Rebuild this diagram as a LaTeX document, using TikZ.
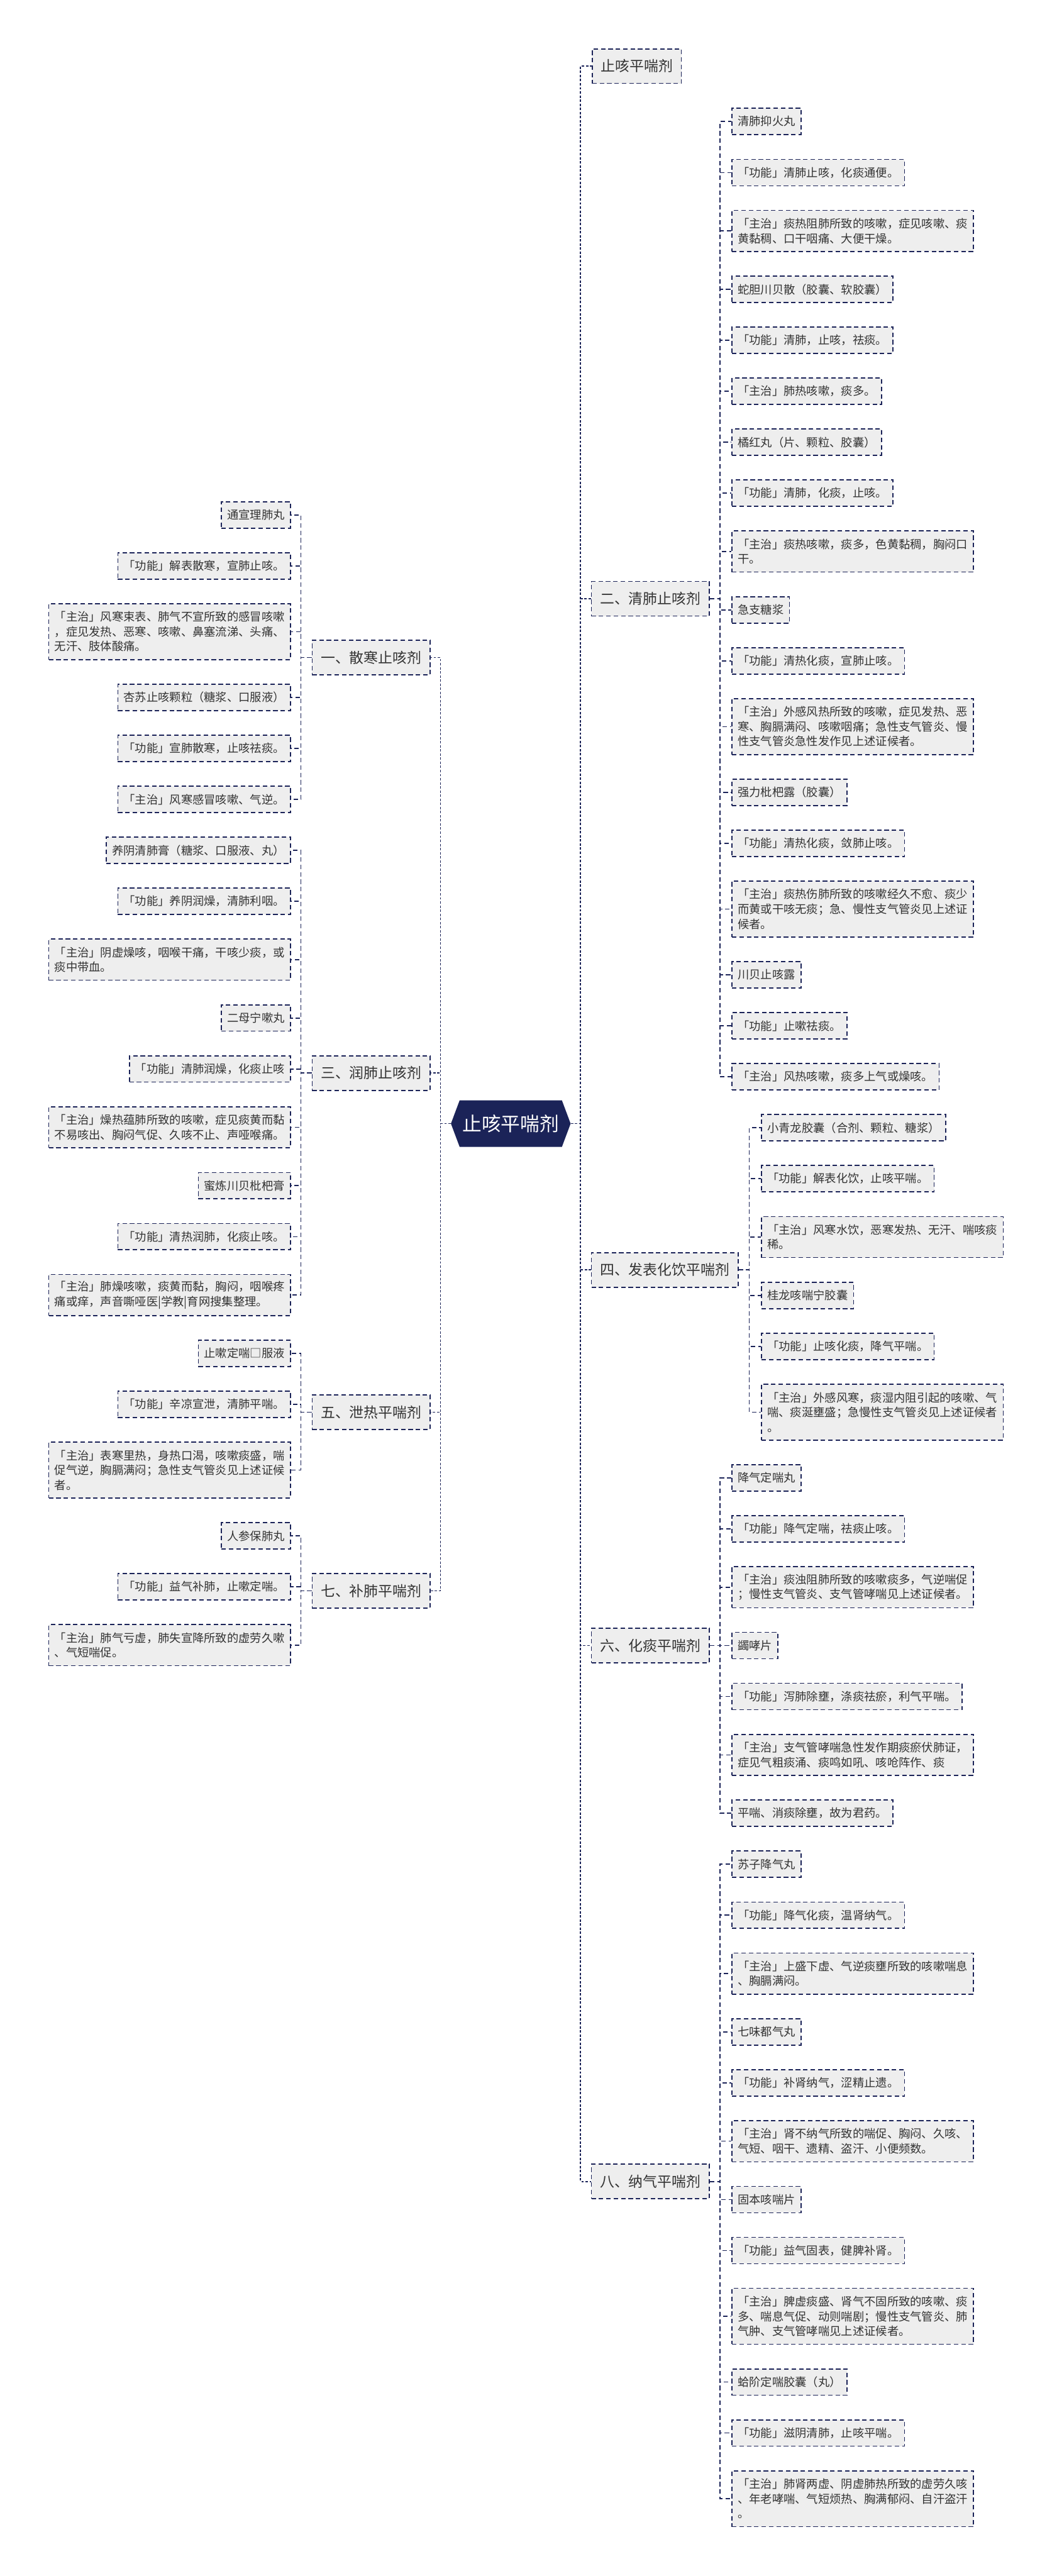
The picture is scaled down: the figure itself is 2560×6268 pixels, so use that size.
\documentclass[tikz,border=0pt]{standalone}
\usepackage{fontspec}
\setmainfont{Noto Sans CJK SC}
\usetikzlibrary{shapes.symbols}

\definecolor{navy}{RGB}{27,35,88}
\definecolor{boxgray}{RGB}{238,238,238}
\definecolor{ink}{RGB}{51,51,51}

\begin{document}
\begin{tikzpicture}[x=1pt, y=-1pt,
    box/.style={draw=navy, fill=boxgray, line width=2.5pt,
      dash pattern=on 11pt off 7pt, text=ink, align=left, inner ysep=0pt},
    leaf/.style={box, inner xsep=14pt, minimum height={28pt+36pt*#1},
      font=\fontsize{28pt}{36pt}\selectfont},
    branch/.style={box, inner xsep=21pt, minimum height=84pt,
      font=\fontsize{35pt}{42pt}\selectfont},
    link/.style={draw=navy, line width=2.5pt, dash pattern=on 11pt off 7pt},
    trunk/.style={draw=navy, line width=2.5pt, dash pattern=on 6pt off 4pt}]

  % 画布
  \useasboundingbox[fill=white] (0,0) rectangle (2560,6268);

  % ========== 中心主题 ==========
  \node[signal, signal to=east and west, signal pointer angle=139,
        fill=navy, text=white, inner xsep=7pt, minimum height=113pt,
        font=\fontsize{47pt}{56pt}\selectfont] (root) at (1243,2734) {止咳平喘剂};

  % ========== 右：一级分支 ==========
  \node[branch, anchor=west] (top) at (1440,161)  {止咳平喘剂};
  \node[branch, anchor=west] (qf)  at (1438,1457) {二、清肺止咳剂};
  \node[branch, anchor=west] (fb)  at (1438,3090) {四、发表化饮平喘剂};
  \node[branch, anchor=west] (ht)  at (1438,4004) {六、化痰平喘剂};
  \node[branch, anchor=west] (nq)  at (1438,5308) {八、纳气平喘剂};

  % ========== 左：一级分支 ==========
  \node[branch, anchor=east] (sh) at (1048,1600) {一、散寒止咳剂};
  \node[branch, anchor=east] (rf) at (1048,2611) {三、润肺止咳剂};
  \node[branch, anchor=east] (xr) at (1048,3436) {五、泄热平喘剂};
  \node[branch, anchor=east] (bf) at (1048,3871) {七、补肺平喘剂};

  % 中心到一级分支
  \foreach \b in {top,qf,fb,ht,nq}
    \draw[trunk] (root.east) -- ++(24,0) |- (\b.west);
  \foreach \b in {sh,rf,xr,bf}
    \draw[trunk] (root.west) -- ++(-25,0) |- (\b.east);

  % ========== 二、清肺止咳剂 ==========
  \foreach \y/\n/\t [count=\i] in {
      295/1/{清肺抑火丸},
      420/1/{「功能」清肺止咳，化痰通便。},
      562/2/{「主治」痰热阻肺所致的咳嗽，症见咳嗽、痰\\黄黏稠、口干咽痛、大便干燥。},
      704/1/{蛇胆川贝散（胶囊、软胶囊）},
      828/1/{「功能」清肺，止咳，祛痰。},
      952/1/{「主治」肺热咳嗽，痰多。},
      1076/1/{橘红丸（片、颗粒、胶囊）},
      1200/1/{「功能」清肺，化痰，止咳。},
      1342/2/{「主治」痰热咳嗽，痰多，色黄黏稠，胸闷口\\干。},
      1484/1/{急支糖浆},
      1608/1/{「功能」清热化痰，宣肺止咳。},
      1768/3/{「主治」外感风热所致的咳嗽，症见发热、恶\\寒、胸膈满闷、咳嗽咽痛；急性支气管炎、慢\\性支气管炎急性发作见上述证候者。},
      1928/1/{强力枇杷露（胶囊）},
      2052/1/{「功能」清热化痰，敛肺止咳。},
      2212/3/{「主治」痰热伤肺所致的咳嗽经久不愈、痰少\\而黄或干咳无痰；急、慢性支气管炎见上述证\\候者。},
      2372/1/{川贝止咳露},
      2496/1/{「功能」止嗽祛痰。},
      2620/1/{「主治」风热咳嗽，痰多上气或燥咳。}}
    \node[leaf=\n, anchor=west] (qf\i) at (1780,\y) {\t};
  \foreach \i in {1,...,18}
    \draw[link] (qf.east) -- ++(25,0) |- (qf\i.west);

  % ========== 四、发表化饮平喘剂 ==========
  \foreach \y/\n/\t [count=\i] in {
      2744/1/{小青龙胶囊（合剂、颗粒、糖浆）},
      2868/1/{「功能」解表化饮，止咳平喘。},
      3010/2/{「主治」风寒水饮，恶寒发热、无汗、喘咳痰\\稀。},
      3152/1/{桂龙咳喘宁胶囊},
      3276/1/{「功能」止咳化痰，降气平喘。},
      3436/3/{「主治」外感风寒，痰湿内阻引起的咳嗽、气\\喘、痰涎壅盛；急慢性支气管炎见上述证候者\\。}}
    \node[leaf=\n, anchor=west] (fb\i) at (1852,\y) {\t};
  \foreach \i in {1,...,6}
    \draw[link] (fb.east) -- ++(26,0) |- (fb\i.west);

  % ========== 六、化痰平喘剂 ==========
  \foreach \y/\n/\t [count=\i] in {
      3596/1/{降气定喘丸},
      3720/1/{「功能」降气定喘，祛痰止咳。},
      3862/2/{「主治」痰浊阻肺所致的咳嗽痰多，气逆喘促\\；慢性支气管炎、支气管哮喘见上述证候者。},
      4004/1/{蠲哮片},
      4128/1/{「功能」泻肺除壅，涤痰祛瘀，利气平喘。},
      4270/2/{「主治」支气管哮喘急性发作期痰瘀伏肺证，\\症见气粗痰涌、痰鸣如吼、咳呛阵作、痰},
      4412/1/{平喘、消痰除壅，故为君药。}}
    \node[leaf=\n, anchor=west] (ht\i) at (1780,\y) {\t};
  \foreach \i in {1,...,7}
    \draw[link] (ht.east) -- ++(25,0) |- (ht\i.west);

  % ========== 八、纳气平喘剂 ==========
  \foreach \y/\n/\t [count=\i] in {
      4536/1/{苏子降气丸},
      4660/1/{「功能」降气化痰，温肾纳气。},
      4802/2/{「主治」上盛下虚、气逆痰壅所致的咳嗽喘息\\、胸膈满闷。},
      4944/1/{七味都气丸},
      5068/1/{「功能」补肾纳气，涩精止遗。},
      5210/2/{「主治」肾不纳气所致的喘促、胸闷、久咳、\\气短、咽干、遗精、盗汗、小便频数。},
      5352/1/{固本咳喘片},
      5476/1/{「功能」益气固表，健脾补肾。},
      5636/3/{「主治」脾虚痰盛、肾气不固所致的咳嗽、痰\\多、喘息气促、动则喘剧；慢性支气管炎、肺\\气肿、支气管哮喘见上述证候者。},
      5796/1/{蛤阶定喘胶囊（丸）},
      5920/1/{「功能」滋阴清肺，止咳平喘。},
      6080/3/{「主治」肺肾两虚、阴虚肺热所致的虚劳久咳\\、年老哮喘、气短烦热、胸满郁闷、自汗盗汗\\。}}
    \node[leaf=\n, anchor=west] (nq\i) at (1780,\y) {\t};
  \foreach \i in {1,...,12}
    \draw[link] (nq.east) -- ++(25,0) |- (nq\i.west);

  % ========== 一、散寒止咳剂 ==========
  \foreach \y/\n/\t [count=\i] in {
      1253/1/{通宣理肺丸},
      1377/1/{「功能」解表散寒，宣肺止咳。},
      1537/3/{「主治」风寒束表、肺气不宣所致的感冒咳嗽\\，症见发热、恶寒、咳嗽、鼻塞流涕、头痛、\\无汗、肢体酸痛。},
      1697/1/{杏苏止咳颗粒（糖浆、口服液）},
      1821/1/{「功能」宣肺散寒，止咳祛痰。},
      1945/1/{「主治」风寒感冒咳嗽、气逆。}}
    \node[leaf=\n, anchor=east] (sh\i) at (708,\y) {\t};
  \foreach \i in {1,...,6}
    \draw[link] (sh.west) -- ++(-26,0) |- (sh\i.east);

  % ========== 三、润肺止咳剂 ==========
  \foreach \y/\n/\t [count=\i] in {
      2069/1/{养阴清肺膏（糖浆、口服液、丸）},
      2193/1/{「功能」养阴润燥，清肺利咽。},
      2335/2/{「主治」阴虚燥咳，咽喉干痛，干咳少痰，或\\痰中带血。},
      2477/1/{二母宁嗽丸},
      2601/1/{「功能」清肺润燥，化痰止咳},
      2743/2/{「主治」燥热蕴肺所致的咳嗽，症见痰黄而黏\\不易咳出、胸闷气促、久咳不止、声哑喉痛。},
      2885/1/{蜜炼川贝枇杷膏},
      3009/1/{「功能」清热润肺，化痰止咳。},
      3151/2/{「主治」肺燥咳嗽，痰黄而黏，胸闷，咽喉疼\\痛或痒，声音嘶哑医|学教|育网搜集整理。}}
    \node[leaf=\n, anchor=east] (rf\i) at (708,\y) {\t};
  \foreach \i in {1,...,9}
    \draw[link] (rf.west) -- ++(-26,0) |- (rf\i.east);

  % ========== 五、泄热平喘剂 ==========
  \foreach \y/\n/\t [count=\i] in {
      3293/1/{止嗽定喘□服液},
      3417/1/{「功能」辛凉宣泄，清肺平喘。},
      3577/3/{「主治」表寒里热，身热口渴，咳嗽痰盛，喘\\促气逆，胸膈满闷；急性支气管炎见上述证候\\者。}}
    \node[leaf=\n, anchor=east] (xr\i) at (708,\y) {\t};
  \foreach \i in {1,...,3}
    \draw[link] (xr.west) -- ++(-26,0) |- (xr\i.east);

  % ========== 七、补肺平喘剂 ==========
  \foreach \y/\n/\t [count=\i] in {
      3737/1/{人参保肺丸},
      3861/1/{「功能」益气补肺，止嗽定喘。},
      4003/2/{「主治」肺气亏虚，肺失宣降所致的虚劳久嗽\\、气短喘促。}}
    \node[leaf=\n, anchor=east] (bf\i) at (708,\y) {\t};
  \foreach \i in {1,...,3}
    \draw[link] (bf.west) -- ++(-26,0) |- (bf\i.east);

\end{tikzpicture}
\end{document}
